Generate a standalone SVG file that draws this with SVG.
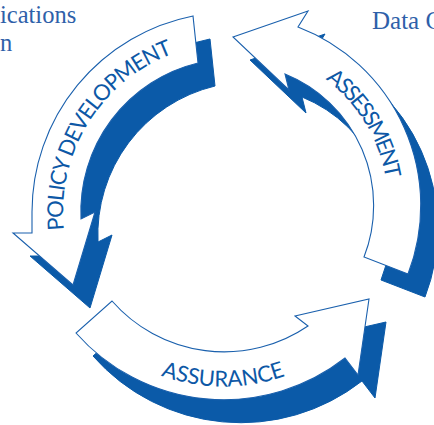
<svg xmlns="http://www.w3.org/2000/svg" width="434" height="425" viewBox="0 0 434 425">
<style>
.shadow{fill:#0b5aa8;stroke:#0b5aa8;stroke-width:1}
.band{fill:#ffffff;stroke:#1a60ad;stroke-width:1.1;stroke-linejoin:miter}
.lbl{font-family:Lato,"Open Sans","Liberation Sans",sans-serif;font-size:22px;fill:#0d58a6}
.note{font-family:"Liberation Serif","DejaVu Serif",serif;fill:#2e60a9}
</style>
<defs>
<path id="pPolicy" d="M193,16 A200,200 0 0 0 32,212 L32,233 L13,233 L73,285 L95,212 L81,219 A153,153 0 0 1 198,63 Z"/>
<path id="pAssess" d="M233,37 L308,11 L298,27 A191,191 0 0 1 408,274 L364,257 A142,142 0 0 0 285,74 L289,90 Z"/>
<path id="pAssur" d="M112,301 A149,149 0 0 0 308,326 L295,316 L369,299 L358,375 L345,358 A197,197 0 0 1 76,333 Z"/>
<path id="tPolicy" d="M64,230 A169,169 0 0 1 188.3,48.8"/>
<path id="tAssess" d="M325.5,79.2 A158,158 0 0 1 388,205"/>
<path id="tAssur" d="M160.9,375.5 A183,183 0 0 0 315,362"/>
</defs>
<text class="note" x="0" y="23" font-size="24.5">ications</text>
<text class="note" x="0" y="51" font-size="24.5">n</text>
<text class="note" x="372" y="29" font-size="25">Data C</text>
<g id="connectors">
<use href="#pPolicy" class="shadow" transform="translate(17,23)"/>
<use href="#pAssess" class="shadow" transform="translate(17,23)"/>
<use href="#pAssur" class="shadow" transform="translate(17,23)"/>
</g>
<g id="policy-development">
<use href="#pPolicy" class="band"/>
<text class="lbl"><textPath href="#tPolicy" textLength="223" lengthAdjust="spacing">POLICY DEVELOPMENT</textPath></text>
</g>
<g id="assessment">
<use href="#pAssess" class="band"/>
<text class="lbl"><textPath href="#tAssess" textLength="119" lengthAdjust="spacing">ASSESSMENT</textPath></text>
</g>
<g id="assurance">
<use href="#pAssur" class="band"/>
<text class="lbl"><textPath href="#tAssur" textLength="127" lengthAdjust="spacing">ASSURANCE</textPath></text>
</g>
</svg>
